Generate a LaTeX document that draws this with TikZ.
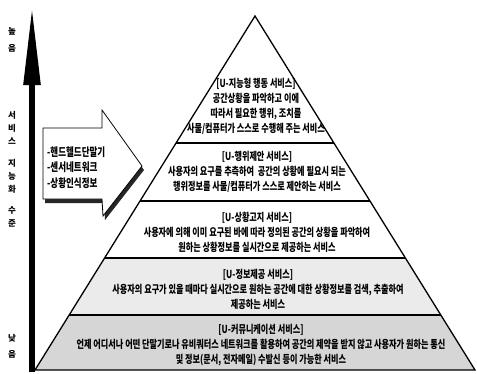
\documentclass[tikz,border=0pt]{standalone}
\usepackage{fontspec}
\newfontfamily\kr{Noto Sans CJK KR}[FakeStretch=0.74]
\newfontfamily\krsq{Noto Sans CJK KR}
\usetikzlibrary{arrows.meta,calc}
\tikzset{
  lay/.style={font=\kr\bfseries\fontsize{11}{15}\selectfont, align=center, inner sep=0pt},
  side/.style={font=\krsq\bfseries\fontsize{8.5}{8.5}\selectfont, inner sep=0pt},
  arrtxt/.style={font=\kr\bfseries\fontsize{11.5}{12}\selectfont, anchor=west, inner sep=0pt},
  pedge/.style={line width=1.3pt, line join=miter},
}
\begin{document}
\begin{tikzpicture}[x=1pt,y=-1pt]
\useasboundingbox (0,0) rectangle (477,373);
\fill[white] (0,0) rectangle (477,373);
% pyramid geometry
\coordinate (apex) at (255,16);
\coordinate (bl) at (35,370);
\coordinate (br) at (475,370);
\coordinate (l1) at ($(apex)!0.3588!(bl)$); \coordinate (r1) at ($(apex)!0.3588!(br)$);
\coordinate (l2) at ($(apex)!0.5226!(bl)$); \coordinate (r2) at ($(apex)!0.5226!(br)$);
\coordinate (l3) at ($(apex)!0.6836!(bl)$); \coordinate (r3) at ($(apex)!0.6836!(br)$);
\coordinate (l4) at ($(apex)!0.8446!(bl)$); \coordinate (r4) at ($(apex)!0.8446!(br)$);
\fill[gray!32] (l4) -- (r4) -- (br) -- (bl) -- cycle;
\fill[gray!16] (l3) -- (r3) -- (r4) -- (l4) -- cycle;
\draw[pedge] (apex) -- (bl) -- (br) -- cycle;
\draw[pedge] (l1) -- (r1);
\draw[pedge] (l2) -- (r2);
\draw[pedge] (l3) -- (r3);
\draw[pedge] (l4) -- (r4);
% layer texts
\node[lay] (t1) at (256,106.5) {[U-지능형 행동 서비스]\\공간상황을 파악하고 이에\\따라서 필요한 행위, 조치를\\사물/컴퓨터가 스스로 수행해 주는 서비스};
\node[lay] (t2) at (257,171.5) {[U-행위제안 서비스]\\사용자의 요구를 추측하여~ 공간의 상황에 필요시 되는\\행위정보를 사물/컴퓨터가 스스로 제안하는 서비스};
\node[lay] (t3) at (257,232.5) {[U-상황고지 서비스]\\사용자에 의해 이미 요구된 바에 따라 정의된 공간의 상황을 파악하여\\원하는 상황정보를 실시간으로 제공하는 서비스};
\node[lay] (t4) at (258,289.5) {[U-정보제공 서비스]\\사용자의 요구가 있을 때마다 실시간으로 원하는 공간에 대한 상황정보를 검색, 추출하여\\제공하는 서비스};
\node[lay] (t5) at (261,345) {[U-커뮤니케이션 서비스]\\언제 어디서나 어떤 단말기로나 유비쿼터스 네트워크를 활용하여 공간의 제약을 받지 않고 사용자가 원하는 통신\\및 정보(문서, 전자메일) 수발신 등이 가능한 서비스};
% vertical axis
\coordinate (axbot) at (32,372);
\coordinate (axtop) at (32,7);
\draw[line width=5.5pt, -{Triangle[length=78pt 0 0, width=16pt 0 0]}] (axbot) -- (axtop);
\node[side] (s1) at (12,31) {높};
\node[side] (s2) at (12,48) {음};
\node[side] (s3) at (12,115) {서};
\node[side] (s4) at (12,128) {비};
\node[side] (s5) at (12,141) {스};
\node[side] (s6) at (12,163) {지};
\node[side] (s7) at (12,176) {능};
\node[side] (s8) at (12,189) {화};
\node[side] (s9) at (12,210) {수};
\node[side] (s10) at (12,223) {준};
\node[side] (s11) at (12,338) {낮};
\node[side] (s12) at (12,354) {음};
% block arrow with shadow
\fill[black!85] (45,132) -- (104,132) -- (104,114) -- (144,170) -- (105,220) -- (104,203) -- (45,203) -- cycle;
\draw[line width=0.8pt, fill=white, line join=miter] (43,128) -- (102,128) -- (102,110) -- (142,166) -- (103,216) -- (102,199) -- (43,199) -- cycle;
\node[arrtxt] (a1) at (47,152) {-핸드헬드단말기};
\node[arrtxt] (a2) at (47,167) {-센서네트워크};
\node[arrtxt] (a3) at (47,183) {-상황인식정보};
\end{tikzpicture}
\end{document}
